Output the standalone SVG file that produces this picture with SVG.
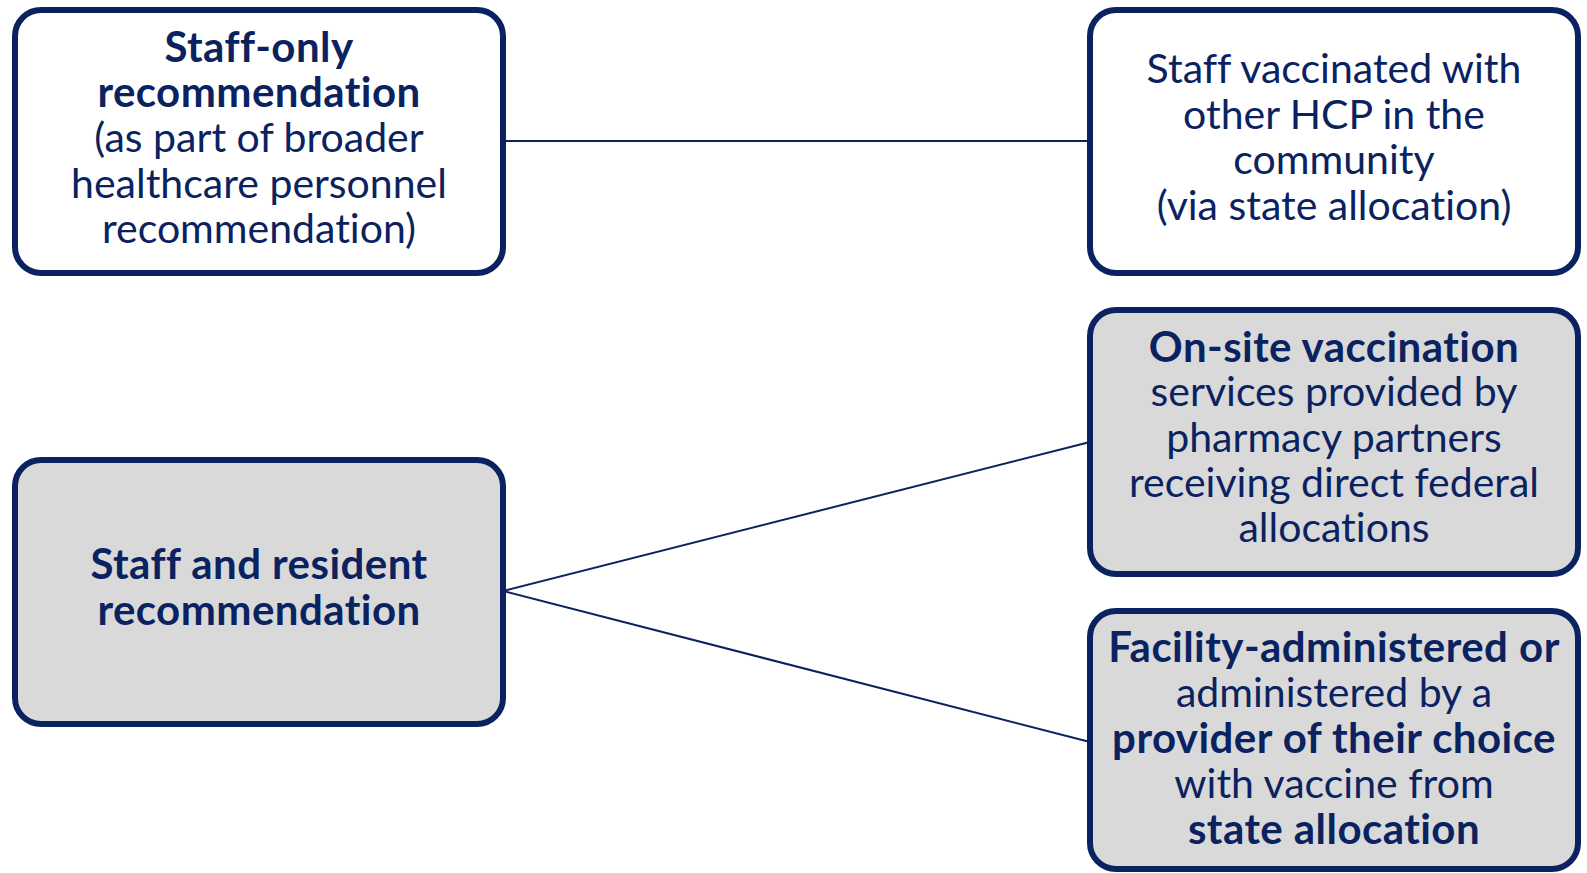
<svg xmlns="http://www.w3.org/2000/svg" width="1587" height="873" viewBox="0 0 1587 873">
<style>
.box{stroke:#0a2360;stroke-width:6;}
.w{fill:#ffffff;}
.g{fill:#d9d9d9;}
text{font-family:Lato,"Open Sans","Liberation Sans",sans-serif;font-size:41px;fill:#0a2360;text-anchor:middle;font-variant-ligatures:none;}
.b{font-weight:bold;font-size:42px;letter-spacing:0.45px;}
.conn{stroke:#0a2360;stroke-width:2;fill:none;}
</style>
<rect width="1587" height="873" fill="#ffffff"/>
<g id="connectors">
<line class="conn" x1="503" y1="141" x2="1090" y2="141"/>
<line class="conn" x1="503" y1="591" x2="1090" y2="442"/>
<line class="conn" x1="503" y1="591" x2="1090" y2="742"/>
</g>
<g id="staff-only">
<rect class="box w" x="15" y="10" width="488" height="263" rx="26"/>
<text x="259" y="62" class="b">Staff-only</text>
<text x="259" y="107" class="b">recommendation</text>
<text x="259" y="152">(as part of broader</text>
<text x="259" y="198">healthcare personnel</text>
<text x="259" y="243">recommendation)</text>
</g>
<g id="staff-community">
<rect class="box w" x="1090" y="10" width="488" height="263" rx="26"/>
<text x="1334" y="83">Staff vaccinated with</text>
<text x="1334" y="129">other HCP in the</text>
<text x="1334" y="174">community</text>
<text x="1334" y="220">(via state allocation)</text>
</g>
<g id="staff-resident">
<rect class="box g" x="15" y="460" width="488" height="264" rx="26"/>
<text x="259" y="579" class="b">Staff and resident</text>
<text x="259" y="625" class="b">recommendation</text>
</g>
<g id="on-site">
<rect class="box g" x="1090" y="310" width="488" height="264" rx="26"/>
<text x="1334" y="362" class="b">On-site vaccination</text>
<text x="1334" y="406">services provided by</text>
<text x="1334" y="452">pharmacy partners</text>
<text x="1334" y="497">receiving direct federal</text>
<text x="1334" y="542">allocations</text>
</g>
<g id="facility">
<rect class="box g" x="1090" y="611" width="488" height="258" rx="26"/>
<text x="1334" y="662" class="b">Facility-administered or</text>
<text x="1334" y="707">administered by a</text>
<text x="1334" y="753" class="b">provider of their choice</text>
<text x="1334" y="798">with vaccine from</text>
<text x="1334" y="844" class="b">state allocation</text>
</g>
</svg>
